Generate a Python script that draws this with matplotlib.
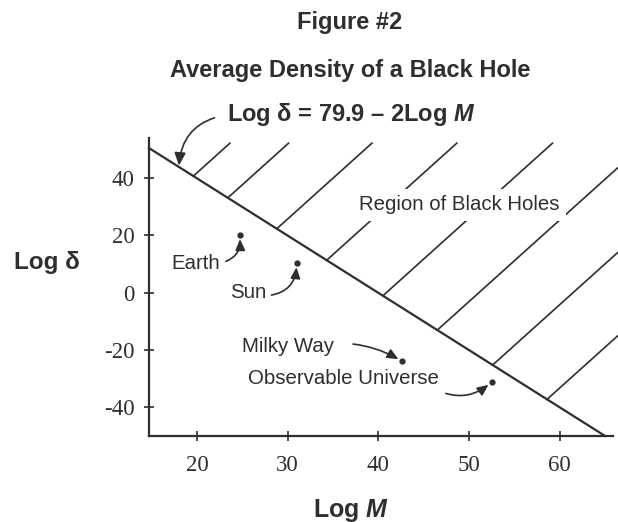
import matplotlib
matplotlib.use("Agg")
import matplotlib.pyplot as plt
import numpy as np

SANS = ['Liberation Sans', 'DejaVu Sans']
SERIF = ['Liberation Serif', 'DejaVu Serif']
plt.rcParams['font.family'] = SANS
plt.rcParams['mathtext.fontset'] = 'custom'
plt.rcParams['mathtext.it'] = 'Liberation Sans:italic:bold'
plt.rcParams['mathtext.rm'] = 'Liberation Sans:bold'

# ---- data ----
eq_intercept = 79.9
eq_slope = -2.0
x_ticks = [20, 30, 40, 50, 60]
y_ticks = [40, 20, 0, -20, -40]
y_tick_labels = ['40', '20', '0', '-20', '-40']
objects = ['Earth', 'Sun', 'Milky Way', 'Observable Universe']
obj_logM = [24.7, 31.0, 42.6, 52.5]
obj_logd = [20.1, 10.3, -24.0, -31.3]
label_logM = [19.9, 25.6, 30.0, 36.1]
label_logd = [10.3, 0.2, -19.0, -29.9]
hatch_start = [19.6, 23.4, 28.8, 34.3, 40.5, 46.5, 52.6, 58.6]
x_range = [14.71, 65.87]
y_range = [-50.1, 54.0]

INK = '#2e2e2e'
fig = plt.figure(figsize=(6.18, 5.22), dpi=100)
ax = fig.add_axes([149/618, 86/522, 464/618, 298/522])
ax.set_xlim(*x_range)
ax.set_ylim(*y_range)
for s in ['top', 'right']:
    ax.spines[s].set_visible(False)
for s in ['left', 'bottom']:
    ax.spines[s].set_linewidth(1.6)
    ax.spines[s].set_color(INK)

ax.set_xticks(x_ticks)
ax.set_xticklabels([str(v) for v in x_ticks], family=SERIF, fontsize=16.5, color=INK)
ax.set_yticks(y_ticks)
ax.set_yticklabels(y_tick_labels, family=SERIF, fontsize=16.5, color=INK)
ax.tick_params(axis='x', direction='inout', length=7, width=1.2, pad=10, colors=INK)
ax.tick_params(axis='y', direction='inout', length=7, width=1.2, pad=7, colors=INK)

# main boundary line
xl = np.array([x_range[0], (y_range[0] - eq_intercept) / eq_slope])
ax.plot(xl, eq_intercept + eq_slope * xl, color=INK, lw=1.6, clip_on=False, zorder=3)

# hatching of the black hole region
hslope = 2.85
top_y = 52.2
for xs in hatch_start:
    ys = eq_intercept + eq_slope * xs
    xe = xs + (top_y - ys) / hslope
    ax.plot([xs, xe], [ys, top_y], color=INK, lw=1.2, clip_on=False, zorder=1)

ax.text(48.9, 30.6, 'Region of Black Holes', fontsize=14.7, color=INK,
        ha='center', va='center', zorder=2,
        bbox=dict(facecolor='white', edgecolor='none', pad=5))

# objects
ax.plot(obj_logM, obj_logd, 'o', color=INK, ms=3.5, zorder=4)
rads = [0.45, 0.45, -0.15, 0.35]
relpos = [(1, 0.5), (1, 0.3), (1, 0.7), (0.97, 0.0)]
shrinkA = [2, 2, 12, 6]
for name, mx, my, tx, ty, r, rp, sa in zip(objects, obj_logM, obj_logd, label_logM, label_logd, rads, relpos, shrinkA):
    ax.annotate(name, xy=(mx, my), xytext=(tx, ty), fontsize=14.7, color=INK,
                ha='center', va='center',
                arrowprops=dict(arrowstyle='-|>,head_length=0.45,head_width=0.2', color=INK, lw=1.2,
                                connectionstyle=f'arc3,rad={r}', relpos=rp, shrinkA=sa, shrinkB=3))

# titles and labels
fig.text(350/618, 1 - 23/522, 'Figure #2', ha='center', va='center', fontsize=17, weight='bold', color=INK)
fig.text(350/618, 1 - 70/522, 'Average Density of a Black Hole', ha='center', va='center', fontsize=17,
         weight='bold', color=INK)
ex = 18.0
ax.annotate('Log δ = 79.9 – 2Log $\\mathit{M}$', xy=(ex, eq_intercept + eq_slope * ex),
            xytext=(351/618, 1 - 115/522), textcoords='figure fraction', ha='center', va='center',
            fontsize=17, weight='bold', color=INK, annotation_clip=False,
            arrowprops=dict(arrowstyle='-|>,head_length=0.45,head_width=0.2', color=INK, lw=1.2,
                            connectionstyle='arc3,rad=0.4', relpos=(0, 0.5), shrinkA=7, shrinkB=1))
fig.text(47/618, 1 - 263/522, 'Log δ', ha='center', va='center', fontsize=17.5, weight='bold', color=INK)
fig.text(351/618, 1 - 510/522, 'Log $\\mathit{M}$', ha='center', va='center', fontsize=18, weight='bold', color=INK)

fig.savefig('out.png', dpi=100, facecolor='white')
